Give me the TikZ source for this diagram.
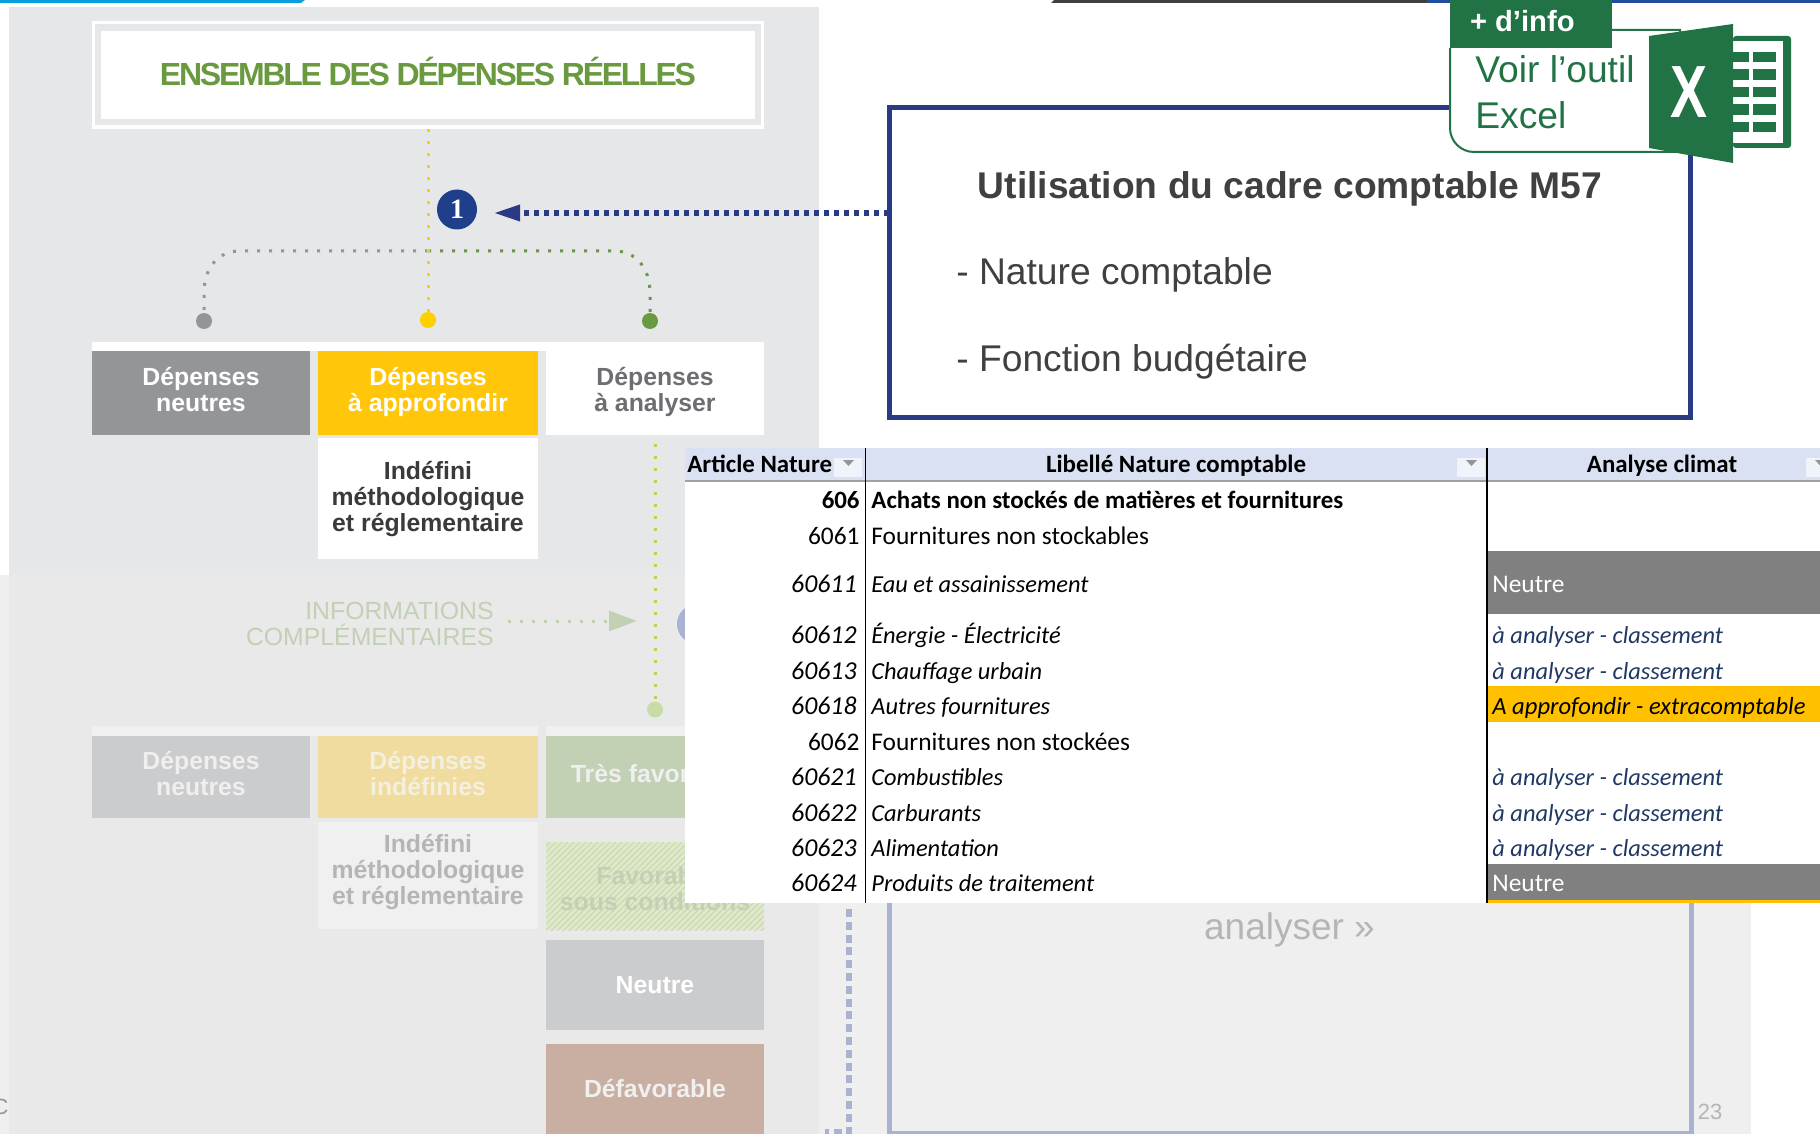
\documentclass[tikz,border=0pt]{standalone}
\usepackage{fontspec}
\setmainfont{Liberation Sans}
\newfontfamily\tableur{Carlito}
\newfontfamily\chiffre{Liberation Serif}
\newfontfamily\serre[LetterSpace=-7]{Liberation Sans}
\usetikzlibrary{arrows.meta,patterns}
\definecolor{panneau}{HTML}{E6E7E9}
\definecolor{panneaub}{HTML}{E9E9E9}
\definecolor{clair}{HTML}{EFEFEF}
\definecolor{vertitre}{HTML}{6A9A3F}
\definecolor{jaune}{HTML}{FFC60A}
\definecolor{jaunep}{HTML}{FFD000}
\definecolor{gris}{HTML}{939598}
\definecolor{grisb}{HTML}{CBCCCE}
\definecolor{jauneb}{HTML}{F0DC9E}
\definecolor{vertb}{HTML}{C2D0B4}
\definecolor{brun}{HTML}{C9AEA2}
\definecolor{bleu}{HTML}{2B3A85}
\definecolor{bleun}{HTML}{1F3F8B}
\definecolor{bleub}{HTML}{A9B2D1}
\definecolor{excel}{HTML}{217346}
\definecolor{entete}{HTML}{D9E1F2}
\definecolor{cyan}{HTML}{0A9FDC}
\definecolor{barre}{HTML}{404040}
\definecolor{barreb}{HTML}{1F4E9E}
\definecolor{grist}{HTML}{6D6E71}
\definecolor{noirt}{HTML}{3A3A3A}
\definecolor{pale}{HTML}{F0F0F0}
\definecolor{palej}{HTML}{F4F0E0}
\definecolor{grisc}{HTML}{B5B5B5}
\definecolor{vertp}{HTML}{C8DCA8}
\definecolor{vertl}{HTML}{B4D45A}
\definecolor{hachure}{HTML}{C6D89C}
\definecolor{hachurefond}{HTML}{DFE8CC}
\definecolor{hachuret}{HTML}{C6CFB6}
\definecolor{filet}{HTML}{A0A0A0}
\definecolor{cellule}{HTML}{808080}
\definecolor{orange}{HTML}{FFC000}
\definecolor{marine}{HTML}{1F3864}
\newcommand{\tabr}{\tableur\fontsize{12.7}{13}\selectfont}
\newcommand{\tabi}{\tableur\itshape\fontsize{12.2}{13}\selectfont}
\newcommand{\tabb}{\tableur\bfseries\fontsize{12.45}{13}\selectfont}
\newcommand{\fin}[1]{\rule[-#1]{0pt}{0pt}}
\tikzset{
  bloc/.style={rectangle,inner sep=0pt,align=center,font=\bfseries\fontsize{12.4}{13}\selectfont},
  cola/.style={minimum width=109pt,minimum height=42pt},
  colb/.style={minimum width=110pt,minimum height=42pt},
  colc/.style={minimum width=109pt},
  pastille/.style={circle,inner sep=0pt,minimum size=8pt},
  pointille/.style={line width=1.5pt,dash pattern=on 1.5pt off 4.5pt},
  texte/.style={inner sep=0pt,font=\fontsize{18.6}{20}\selectfont},
  numero/.style={inner sep=0pt,anchor=base east,font=\tabr},
  libelle/.style={inner sep=0pt,anchor=base west,font=\tabr},
  bouton/.style={fill=white!60!entete,draw=none}
}
\begin{document}
\begin{tikzpicture}[x=0.5pt,y=-0.5pt]
  \useasboundingbox (0,0) rectangle (1820,1134);
  \fill[white] (0,0) rectangle (1820,1134);
  % barres du haut
  \fill[cyan] (0,0) -- (305,0) -- (301,3) -- (0,3) -- cycle;
  \fill[barre] (1051,3) -- (1054,0) -- (1427,0) -- (1427,3) -- cycle;
  \fill[barreb] (1427,0) rectangle (1820,3);
  % fonds
  \fill[clair] (0,575) rectangle (9,1134);
  \node[inner sep=0pt,anchor=base east,text=gris,font=\fontsize{11}{11}\selectfont] (coupe) at (9,1114) {C};
  \fill[panneau] (9,7) rectangle (819,575);
  \fill[panneaub] (9,575) rectangle (819,1134);
  \fill[clair] (819,880) rectangle (1751,1134);
  % titre
  \node[rectangle,fill=white,minimum width=336pt,minimum height=54pt] (cadretitre) at (428,75) {};
  \node[rectangle,fill=panneau,minimum width=333pt,minimum height=50.5pt] (bandetitre) at (428,75) {};
  \node[rectangle,fill=white,minimum width=327pt,minimum height=44pt,text=vertitre,font=\serre\bfseries\fontsize{16}{18}\selectfont] (titre) at (428,75) {ENSEMBLE DES DÉPENSES RÉELLES\fin{3.5pt}};
  % arbre
  \node[pastille,fill=gris] (dotgris) at (204,321) {};
  \node[pastille,fill=jaunep] (dotfond) at (428,320) {};
  \node[pastille,fill=vertitre] (dotvert) at (650,321) {};
  \coordinate (embranche) at (428,251);
  \draw[pointille,gris] (embranche) -- (240,251) .. controls (218,251) and (204,268) .. (204,293) -- (dotgris);
  \draw[pointille,vertitre] (embranche) -- (614,251) .. controls (636,251) and (650,268) .. (650,293) -- (dotvert);
  \draw[pointille,jaunep] (cadretitre.south) -- (dotfond);
  \node[circle,fill=bleun,inner sep=0pt,minimum size=20pt,text=white,font=\chiffre\bfseries\fontsize{14}{14}\selectfont] (un) at (457,209.5) {1};
  % premiere ligne
  \fill[white] (92,342) rectangle (764,351);
  \node[bloc,cola,fill=gris,text=white] (neutres) at (201,393) {Dépenses\\neutres\fin{3.5pt}};
  \node[bloc,colb,fill=jaune,text=white] (fond) at (428,393) {Dépenses\\à approfondir\fin{3.5pt}};
  \node[bloc,colc,minimum height=42pt,fill=white,text=grist] (analyse) at (655,393) {Dépenses\\à analyser\fin{3.5pt}};
  \node[bloc,minimum width=110pt,minimum height=60.5pt,fill=white,text=noirt] (indefini) at (428,498.5) {\rule{0pt}{10pt}Indéfini\\méthodologique\\et réglementaire};
  % partie estompee
  \node[pastille,fill=vertp] (dotinfo) at (655,709.5) {};
  \coordinate (haut) at (655,444);
  \draw[pointille,vertl] (haut) -- (dotinfo);
  \node[inner sep=0pt,align=right,anchor=east,text=vertb,font=\fontsize{12.4}{13}\selectfont] (infos) at (494,624) {INFORMATIONS\\COMPLÉMENTAIRES};
  \coordinate (pointe) at (637,621);
  \coordinate (depart) at (508,621);
  \draw[pointille,vertb,-{Triangle[length=14pt,width=10pt]}] (depart) -- (pointe);
  \node[circle,fill=bleub,minimum size=20pt,inner sep=0pt] (deux) at (697,624) {};
  \fill[pale] (92,726) rectangle (538,736);
  \fill[pale] (546,726) rectangle (764,736);
  \node[bloc,cola,minimum height=41pt,fill=grisb,text=clair] (neutresb) at (201,776.5) {Dépenses\\neutres\fin{3.5pt}};
  \node[bloc,colb,minimum height=41pt,fill=jauneb,text=palej] (indefinies) at (428,776.5) {Dépenses\\indéfinies\fin{3.5pt}};
  \node[bloc,colc,minimum height=41pt,fill=vertb,text=clair] (tres) at (655,776.5) {Très favorable\fin{3pt}};
  \node[bloc,minimum width=110pt,minimum height=53.5pt,fill=pale,text=grisc] (indefinib) at (428,875.5) {Indéfini\\méthodologique\\et réglementaire\fin{6.6pt}};
  \node[bloc,colc,minimum height=44pt,preaction={fill=hachurefond},pattern=north east lines,pattern color=hachure,text=hachuret] (favorable) at (655,886) {\rule{0pt}{11.2pt}Favorable\\sous conditions};
  \node[bloc,colc,minimum height=45pt,fill=grisb,text=white] (neutre) at (655,985) {Neutre};
  \node[bloc,colc,minimum height=45pt,fill=brun,text=pale] (defavorable) at (655,1089) {Défavorable};
  % cadre estompe
  \coordinate (tiret) at (849,909);
  \coordinate (tiretfin) at (825,1132);
  \draw[bleub,line width=2.75pt,dash pattern=on 4pt off 2.4pt] (tiret) -- (849,1132) -- (tiretfin);
  \draw[bleub,line width=2.5pt] (889,880) -- (889,1133) -- (1691,1133) -- (1691,880);
  \node[inner sep=0pt,text=grisc,font=\fontsize{18.5}{20}\selectfont] (suite) at (1289.5,929.5) {analyser »};
  \node[inner sep=0pt,text=grisc,font=\fontsize{11}{12}\selectfont] (page) at (1710,1112) {23};
  % tableau
  \fill[white] (685,448) rectangle (1820,903);
  \fill[entete] (685,448) rectangle (1820,480);
  \draw[filet,line width=1pt] (685,480.5) -- (1820,480.5);
  \fill[cellule] (1487,551) rectangle (1820,614);
  \fill[cellule] (1487,864) rectangle (1820,899.5);
  \fill[orange] (1487,686) rectangle (1820,721.5);
  \fill[orange] (1487,899.5) rectangle (1820,903);
  \foreach \x in {862,1485,1834}{
    \fill[bouton] (\x-28,458) rectangle (\x,477);
    \fill[gris] (\x-19,460) -- (\x-8,460) -- (\x-13.5,466) -- cycle;}
  \draw[black,line width=0.75pt] (865.5,448) -- (865.5,903);
  \draw[black,line width=0.6pt] (1487,448) -- (1487,903);
  \node[libelle,font=\tabb] (artnat) at (687,472) {Article Nature};
  \node[libelle,anchor=base,font=\tabb] (libnat) at (1176,472) {Libellé Nature comptable};
  \node[libelle,anchor=base,font=\tabb] (anaclim) at (1662,472) {Analyse climat};
  \node[numero,font=\tabb] (n606) at (860,508) {606};
  \node[libelle,font=\tabb] (l606) at (871,508) {Achats non stockés de matières et fournitures};
  \foreach \y/\n/\t in {544/6061/Fournitures non stockables, 750/6062/Fournitures non stockées}{
    \node[numero] (n\n) at (860,\y) {\n};
    \node[libelle] (l\n) at (871,\y) {\t};}
  \foreach \y/\n/\t in {592/60611/Eau et assainissement, 643/60612/Énergie - Électricité, 679/60613/Chauffage urbain, 714/60618/Autres fournitures, 785/60621/Combustibles, 821/60622/Carburants, 856/60623/Alimentation, 891/60624/Produits de traitement}{
    \node[numero,font=\tabi\fontsize{12.9}{13}\selectfont] (n\n) at (857,\y) {\n};
    \node[libelle,font=\tabi] (l\n) at (871,\y) {\t};}
  \foreach \y/\n in {643/60612, 679/60613, 785/60621, 821/60622, 856/60623}
    \node[libelle,text=marine,font=\tabi] (a\n) at (1492,\y) {à analyser - classement};
  \foreach \y/\n in {592/60611, 891/60624}
    \node[libelle,text=white] (a\n) at (1492,\y) {Neutre};
  \node[libelle,font=\tabi\fontsize{12.3}{13}\selectfont] (a60618) at (1492,714) {A approfondir - extracomptable};
  % cadre M57
  \node[rectangle,draw=bleu,line width=2.6pt,fill=white,minimum width=400.5pt,minimum height=155pt] (cadre) at (1290,262.75) {};
  \coordinate (flecheM) at (889,213);
  \coordinate (fleche) at (493,213);
  \draw[bleu,line width=3pt,dash pattern=on 2.6pt off 2.4pt,-{Triangle[length=13.5pt,width=7.5pt]}] (flecheM) -- (fleche);
  \node[texte,text=barre,font=\bfseries\fontsize{18.6}{20}\selectfont] (cadrem) at (1290,188.5) {Utilisation du cadre comptable M57};
  \node[texte,anchor=west,text=barre] (nature) at (956,274.5) {- Nature comptable};
  \node[texte,anchor=west,text=barre] (fonction) at (956,361.5) {- Fonction budgétaire};
  % encart excel
  \draw[excel,line width=1pt,fill=white] (1450,48) [rounded corners=12pt] -- (1450,152) [sharp corners] -- (1680,152) -- (1680,30) -- (1611,30);
  \node[rectangle,fill=excel,minimum width=81pt,minimum height=24.5pt,inner sep=0pt,text=white,font=\bfseries\fontsize{14.6}{15}\selectfont] (info) at (1530.5,24) {\hspace{-8.2pt}+ d’info\fin{3.5pt}};
  \node[texte,anchor=west,text=excel] (voir) at (1475,69) {Voir l’outil};
  \node[texte,anchor=west,text=excel] (excelb) at (1475,115) {Excel};
  \fill[excel,rounded corners=1.5pt] (1733,36) rectangle (1791,148);
  \fill[white] (1733,41) rectangle (1783,143);
  \foreach \y in {52,69.5,87,104.5,122}{
    \fill[excel] (1733,\y) rectangle (1749,\y+10.5);
    \fill[excel] (1753,\y) rectangle (1776,\y+10.5);}
  \fill[excel] (1649,36) -- (1733,24) -- (1733,163) -- (1649,148) -- cycle;
  \node[inner sep=0pt,text=white,font=\bfseries\fontsize{37}{37}\selectfont] (croix) at (1688.5,92) {\scalebox{0.75}[1]{X}};
\end{tikzpicture}
\end{document}
